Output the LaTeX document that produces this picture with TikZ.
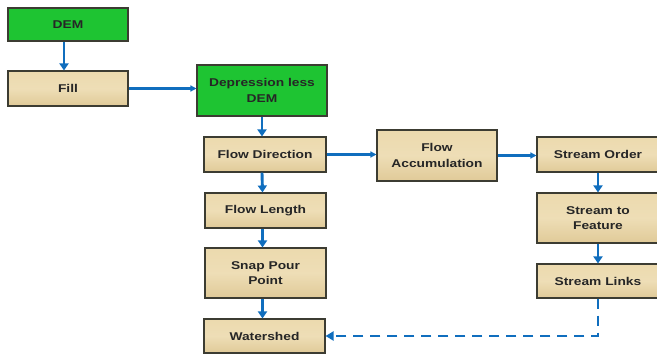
\documentclass[tikz,border=0pt]{standalone}
\usepackage{fontspec}
\setmainfont{Liberation Sans}[FakeStretch=1.22]
\usetikzlibrary{arrows.meta}
\definecolor{boxgreen}{RGB}{30,196,50}
\definecolor{papyrus}{RGB}{236,218,174}
\definecolor{papyrusdark}{RGB}{224,202,152}
\definecolor{flowblue}{RGB}{16,110,190}
\definecolor{edgegray}{RGB}{60,60,50}
\tikzset{
  base/.style={draw=edgegray, line width=1.1pt, align=center, inner sep=2pt,
    font=\fontsize{11.3}{15.5}\selectfont\bfseries, text=black!85},
  greenbox/.style={base, fill=boxgreen},
  papbox/.style={base, top color=papyrus, bottom color=papyrusdark, middle color=papyrus!90!white},
  flow/.style={draw=flowblue, line width=2.9pt, -{Triangle[length=7pt,width=9pt]}},
  hflow/.style={draw=flowblue, line width=2.1pt, -{Triangle[length=6pt,width=6pt]}},
  dflow/.style={draw=flowblue, line width=2.7pt, dash pattern=on 10pt off 7pt, -{Triangle[length=8pt,width=9pt]}}
}
\begin{document}
\begin{tikzpicture}[x=1pt,y=-1pt]
\useasboundingbox (0,0) rectangle (657,356);
\node[greenbox, minimum width=120pt, minimum height=33pt] (dem) at (68,24.5) {DEM};
\node[papbox, minimum width=120pt, minimum height=35pt] (fill) at (68,88.5) {Fill};
\node[greenbox, minimum width=130pt, minimum height=51pt] (dep) at (262,90.5) {Depression less\\DEM};
\node[papbox, minimum width=122pt, minimum height=35pt] (fd) at (265,154.5) {Flow Direction};
\node[papbox, minimum width=121pt, minimum height=35pt] (fl) at (265.5,210.5) {Flow Length};
\node[papbox, minimum width=121pt, minimum height=50pt] (snap) at (265.5,273) {Snap Pour\\Point};
\node[papbox, minimum width=121pt, minimum height=34pt] (ws) at (264.5,336) {Watershed};
\node[papbox, minimum width=120pt, minimum height=51pt] (fa) at (437,155.5) {Flow\\Accumulation};
\node[papbox, minimum width=122pt, minimum height=35pt] (so) at (598,154.5) {Stream Order};
\node[papbox, minimum width=122pt, minimum height=50pt] (stf) at (598,218) {Stream to\\Feature};
\node[papbox, minimum width=122pt, minimum height=34pt] (sl) at (598,281) {Stream Links};
\draw[flow] ([xshift=-4pt]dem.south) -- ([xshift=-4pt]fill.north);
\draw[hflow] (fill.east) -- (fill.east -| dep.west);
\draw[flow] (dep.south) -- (dep.south |- fd.north);
\draw[hflow] (fd.east) -- (fd.east -| fa.west);
\draw[hflow] (fa.east) -- (fa.east -| so.west);
\draw[flow] ([xshift=-3pt]fd.south) -- ([xshift=-3pt]fl.north);
\draw[flow] ([xshift=-3pt]fl.south) -- ([xshift=-3pt]snap.north);
\draw[flow] ([xshift=-3pt]snap.south) -- ([xshift=-2pt]ws.north);
\draw[flow] (so.south) -- (stf.north);
\draw[flow] (stf.south) -- (sl.north);
\draw[dflow] (sl.south) |- (ws.east);
\end{tikzpicture}
\end{document}
